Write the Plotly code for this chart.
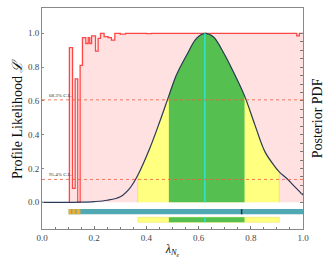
import plotly.graph_objects as go

# Posterior PDF (normalised to peak)
pdf_x = [0.0, 0.10, 0.15, 0.20, 0.25, 0.30, 0.336, 0.367, 0.413, 0.451, 0.486, 0.515,
         0.554, 0.592, 0.624, 0.656, 0.694, 0.733, 0.776, 0.816, 0.854, 0.893, 0.909,
         0.937, 0.97, 1.0]
pdf_y = [0.0, 0.0, 0.001, 0.004, 0.012, 0.033, 0.083, 0.16, 0.32, 0.477, 0.63, 0.753,
         0.87, 0.97, 1.0, 0.98, 0.89, 0.773, 0.63, 0.457, 0.30, 0.21, 0.18,
         0.142, 0.09, 0.043]

# Profile likelihood (step function)
prof_x = [0.105, 0.105, 0.117, 0.127, 0.137, 0.146, 0.155, 0.168, 0.177, 0.183, 0.19,
          0.205, 0.215, 0.224, 0.238, 0.253, 0.266, 0.279, 0.30, 0.32, 0.40, 0.42,
          0.976, 0.986, 1.0]
prof_y = [0.0, 0.915, 0.083, 0.73, 0.0, 0.81, 0.975, 0.94, 0.975, 0.94, 0.985,
          0.895, 0.97, 1.0, 0.98, 0.975, 0.96, 1.0, 0.995, 1.0, 0.998, 1.0,
          0.985, 1.0, 1.0]

# confidence levels
cl_levels = [0.6065, 0.1353]
cl_labels = ["68.3% C.L.", "95.4% C.L."]

# intervals
mode_x = 0.624
ci68 = [0.486, 0.776]
ci95 = [0.367, 0.909]
bestfit_mark = 0.765
prof_bar = [0.102, 1.0]
orange_segs = [[0.102, 0.112], [0.116, 0.128], [0.132, 0.147]]

fig = go.Figure()

# pink profile-likelihood fill + line
fig.add_trace(go.Scatter(x=prof_x, y=prof_y, mode="lines", line_shape="hv",
                         line=dict(color="rgba(255,40,40,0.85)", width=1.3),
                         fill="tozeroy", fillcolor="rgba(255,205,205,0.6)",
                         hoverinfo="skip", showlegend=False))

# yellow (95%) fill
i0, i1 = pdf_x.index(ci95[0]), pdf_x.index(ci95[1])
fig.add_trace(go.Scatter(x=pdf_x[i0:i1 + 1], y=pdf_y[i0:i1 + 1], mode="lines",
                         line=dict(color="rgba(240,230,90,1)", width=0.8, shape="spline"),
                         fill="tozeroy", fillcolor="#FFFF80", showlegend=False))
# green (68%) fill
j0, j1 = pdf_x.index(ci68[0]), pdf_x.index(ci68[1])
fig.add_trace(go.Scatter(x=pdf_x[j0:j1 + 1], y=pdf_y[j0:j1 + 1], mode="lines",
                         line=dict(color="#55C050", width=0.5, shape="spline"),
                         fill="tozeroy", fillcolor="#55C050", showlegend=False))
# vertical edges
for xv, yv, c in [(ci95[0], pdf_y[i0], "rgba(240,230,90,1)"), (ci95[1], pdf_y[i1], "rgba(240,230,90,1)")]:
    fig.add_trace(go.Scatter(x=[xv, xv], y=[0, yv], mode="lines",
                             line=dict(color=c, width=1), showlegend=False))
# pdf curve
fig.add_trace(go.Scatter(x=pdf_x, y=pdf_y, mode="lines",
                         line=dict(color="#2a3a5a", width=1.2, shape="spline"),
                         showlegend=False))
# mode line
fig.add_trace(go.Scatter(x=[mode_x, mode_x], y=[0, 1.0], mode="lines",
                         line=dict(color="#30E0C0", width=1.8), showlegend=False))

shapes = []
# CL dotted lines
for lv in cl_levels:
    shapes.append(dict(type="line", xref="x", yref="y", x0=0, x1=1, y0=lv, y1=lv,
                       line=dict(color="rgba(240,90,60,0.9)", width=0.9, dash="dot")))
# teal bar
shapes.append(dict(type="rect", xref="x", yref="y", x0=prof_bar[0], x1=prof_bar[1],
                   y0=-0.071, y1=-0.04, fillcolor="#4FA8B2", line_width=0))
for s in orange_segs:
    shapes.append(dict(type="rect", xref="x", yref="y", x0=s[0], x1=s[1],
                       y0=-0.071, y1=-0.04, fillcolor="#F0AE30", line_width=0))
shapes.append(dict(type="rect", xref="x", yref="y", x0=bestfit_mark - 0.003,
                   x1=bestfit_mark + 0.003, y0=-0.071, y1=-0.04,
                   fillcolor="#1E3A48", line_width=0))
# lower interval bar
shapes.append(dict(type="rect", xref="x", yref="y", x0=ci95[0], x1=ci95[1],
                   y0=-0.118, y1=-0.089, fillcolor="#FFFF80",
                   line=dict(color="rgba(240,230,90,1)", width=0.6)))
shapes.append(dict(type="rect", xref="x", yref="y", x0=ci68[0], x1=ci68[1],
                   y0=-0.118, y1=-0.089, fillcolor="#55C050", line_width=0))
shapes.append(dict(type="line", xref="x", yref="y", x0=mode_x, x1=mode_x,
                   y0=-0.118, y1=-0.089, line=dict(color="#30E0C0", width=1.5)))

annotations = []
for lv, lab in zip(cl_levels, cl_labels):
    annotations.append(dict(x=0.02, y=lv, xref="x", yref="y", text=lab, showarrow=False,
                            xanchor="left", yanchor="bottom",
                            font=dict(family="Liberation Serif", size=5, color="#333")))
annotations.append(dict(x=-0.13, y=0.5, xref="paper", yref="paper",
                        text="Profile Likelihood <i>ℒ</i>", textangle=-90, showarrow=False,
                        font=dict(family="Liberation Serif", size=14, color="#111")))
annotations.append(dict(x=1.02, y=0.5, xref="paper", yref="paper", xanchor="left",
                        text="Posterior PDF", textangle=-90, showarrow=False,
                        font=dict(family="Liberation Serif", size=14, color="#111")))

axis_font = dict(family="Liberation Serif", size=9, color="#444")
fig.update_layout(
    width=330, height=264,
    margin=dict(l=42, r=27, t=8, b=35),
    plot_bgcolor="white", paper_bgcolor="white",
    shapes=shapes, annotations=annotations,
    xaxis=dict(range=[0, 1], tickvals=[0, 0.2, 0.4, 0.6, 0.8, 1.0],
               ticktext=["0.0", "0.2", "0.4", "0.6", "0.8", "1.0"],
               ticks="inside", ticklen=3, tickcolor="#777",
               minor=dict(dtick=0.05, ticks="inside", ticklen=2, tickcolor="#777"),
               showgrid=False, zeroline=False, showline=True, linecolor="#888",
               linewidth=1, mirror=True, tickfont=axis_font,
               title=dict(text="<i>λ<sub>N<sub>e</sub></sub></i>",
                          font=dict(family="Liberation Serif", size=12, color="#111"),
                          standoff=2)),
    yaxis=dict(range=[-0.158, 1.15], tickvals=[0, 0.2, 0.4, 0.6, 0.8, 1.0],
               ticktext=["0.0", "0.2", "0.4", "0.6", "0.8", "1.0"],
               ticks="inside", ticklen=2, tickcolor="#888",
               showgrid=False, zeroline=False, showline=True, linecolor="#888",
               linewidth=1, mirror=True, tickfont=axis_font),
    yaxis2=dict(range=[-0.158, 1.15], overlaying="y", side="right",
                tickvals=[i * 0.05 for i in range(21)], showticklabels=False,
                ticks="inside", ticklen=3, tickcolor="#777",
                showgrid=False, zeroline=False, showline=False),
)
fig.add_trace(go.Scatter(x=[None], y=[None], yaxis="y2", showlegend=False))

fig.write_html("out.html", config={"displayModeBar": False},
               post_script="document.body.style.margin='0';document.body.style.overflow='hidden';")
